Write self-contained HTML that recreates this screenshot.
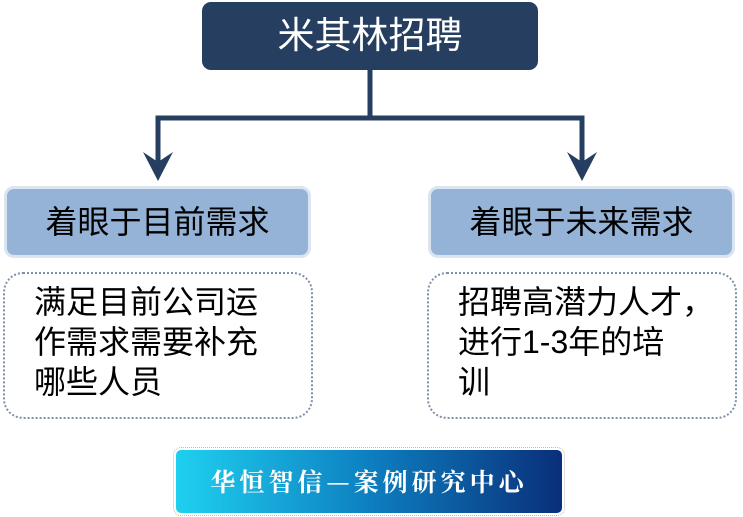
<!DOCTYPE html>
<html><head><meta charset="utf-8"><style>
body{margin:0;width:743px;height:517px;background:#fff;position:relative;overflow:hidden;font-family:"Liberation Sans","Noto Sans CJK SC",sans-serif}
.a{position:absolute;box-sizing:border-box}
.top{left:202px;top:2px;width:336px;height:68px;background:#263f60;border-radius:9px;color:#fff;font-size:37px;text-align:center;line-height:68px}
.b{height:72px;top:186px;width:307px;background:#95b3d7;border:3px solid #dbe5f1;border-radius:10px;font-size:32px;text-align:center;line-height:66px;color:#000;white-space:nowrap}
.d{top:272px;width:310px;height:147px;border:2px dotted #7f8fa6;border-radius:20px;font-size:32px;line-height:40px;padding:8px 0 0 29px;color:#000;white-space:nowrap}
.ban{left:176px;top:450px;width:386px;height:63px;border-radius:5px;background:linear-gradient(90deg,#1fd0f0 0%,#0d7fc0 50%,#0a2f7a 100%);outline:1px dotted #bbb;outline-offset:2px;color:#fff;font-family:"Noto Serif CJK SC",serif;font-weight:bold;font-size:25px;text-align:center;line-height:63px;letter-spacing:4px}
</style></head><body>
<div class="a top">米其林招聘</div>
<svg class="a" style="left:0;top:0" width="743" height="517">
<g fill="none" stroke="#263f60" stroke-width="5">
<line x1="370" y1="70" x2="370" y2="118"/>
<polyline points="158,170 158,118 582,118 582,170"/>
</g>
<polygon points="143,152 158,162 173,152 158,181" fill="#263f60"/>
<polygon points="567,152 582,162 597,152 582,181" fill="#263f60"/>
</svg>
<div class="a b" style="left:4px">着眼于目前需求</div>
<div class="a b" style="left:428px">着眼于未来需求</div>
<div class="a d" style="left:3px">满足目前公司运<br>作需求需要补充<br>哪些人员</div>
<div class="a d" style="left:427px">招聘高潜力人才，<br>进行1-3年的培<br>训</div>
<div class="a ban">华恒智信—案例研究中心</div>
</body></html>
